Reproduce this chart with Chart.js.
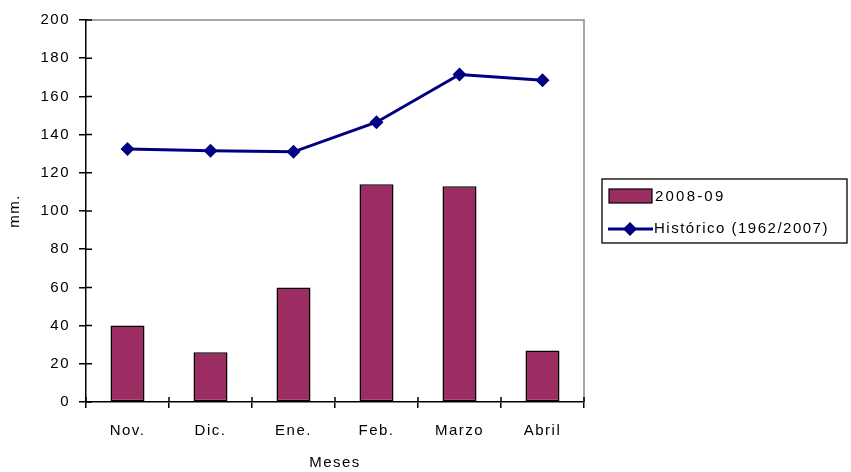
<!DOCTYPE html>
<html>
<head>
<meta charset="utf-8">
<script src="https://cdn.jsdelivr.net/npm/chart.js@4"></script>
<style>
  html, body { margin: 0; padding: 0; background: #fff; }
  #wrap { width: 851px; height: 472px; position: relative; }
</style>
</head>
<body>
<div id="wrap"><canvas id="c" width="851" height="472"></canvas></div>
<script>
const categories = ['Nov.', 'Dic.', 'Ene.', 'Feb.', 'Marzo', 'Abril'];
const rain2008 = [40, 26, 60, 114, 113, 27];
const historico = [132.5, 131.5, 131, 146.5, 171.5, 168.5];
const seriesNames = ['2008-09', 'Histórico (1962/2007)'];
const yTicks = [0, 20, 40, 60, 80, 100, 120, 140, 160, 180, 200];

const FONT = "'Liberation Sans', Arial, sans-serif";
const BAR_COLOR = '#9C2D62';
const LINE_COLOR = '#000080';

const spacingPlugin = {
  id: 'spacing',
  beforeLayout(chart) { chart.ctx.letterSpacing = '1.5px'; },
  beforeDraw(chart) { chart.ctx.letterSpacing = '1.5px'; }
};

const framePlugin = {
  id: 'frame',
  afterDatasetsDraw(chart) {
    const { ctx, chartArea: a } = chart;
    ctx.save();
    ctx.strokeStyle = '#8a8a8a';
    ctx.lineWidth = 1.5;
    ctx.beginPath();
    ctx.moveTo(a.left, a.top);
    ctx.lineTo(a.right, a.top);
    ctx.lineTo(a.right, a.bottom);
    ctx.stroke();
    ctx.strokeStyle = '#000';
    ctx.lineWidth = 1.5;
    const ys = chart.scales.y, xs = chart.scales.x;
    ctx.beginPath();
    yTicks.forEach(v => {
      const py = ys.getPixelForValue(v);
      ctx.moveTo(a.left, py); ctx.lineTo(a.left + 6, py);
    });
    for (let i = 0; i <= categories.length; i++) {
      const px = xs.getPixelForValue(i - 0.5);
      ctx.moveTo(px, a.bottom); ctx.lineTo(px, a.bottom - 5);
    }
    ctx.stroke();
    ctx.restore();
  }
};

const legendPlugin = {
  id: 'boxLegend',
  afterDraw(chart) {
    const ctx = chart.ctx;
    const x0 = 602, y0 = 179, w = 245, h = 64;
    ctx.save();
    ctx.fillStyle = '#fff';
    ctx.fillRect(x0, y0, w, h);
    ctx.strokeStyle = '#000';
    ctx.lineWidth = 1.3;
    ctx.strokeRect(x0, y0, w, h);
    const ds = chart.data.datasets;
    ctx.fillStyle = ds[0].backgroundColor;
    ctx.fillRect(609, 189, 43, 14);
    ctx.strokeStyle = '#000';
    ctx.lineWidth = 1.2;
    ctx.strokeRect(609, 189, 43, 14);
    ctx.strokeStyle = ds[1].borderColor;
    ctx.lineWidth = 3;
    ctx.beginPath();
    ctx.moveTo(608, 229);
    ctx.lineTo(653, 229);
    ctx.stroke();
    ctx.fillStyle = ds[1].borderColor;
    ctx.beginPath();
    ctx.moveTo(630, 222); ctx.lineTo(637, 229); ctx.lineTo(630, 236); ctx.lineTo(623, 229);
    ctx.closePath();
    ctx.fill();
    ctx.fillStyle = '#000';
    ctx.font = '15px ' + FONT;
    ctx.textBaseline = 'middle';
    ctx.textAlign = 'left';
    ctx.letterSpacing = '2.2px';
    ctx.fillText(ds[0].label, 655, 197);
    ctx.letterSpacing = '1.5px';
    ctx.fillText(ds[1].label, 654, 229);
    ctx.restore();
  }
};

new Chart(document.getElementById('c'), {
  data: {
    labels: categories,
    datasets: [
      {
        type: 'bar',
        label: seriesNames[0],
        data: rain2008,
        backgroundColor: BAR_COLOR,
        borderColor: '#000',
        borderWidth: 1.5,
        borderSkipped: false,
        categoryPercentage: 1,
        barPercentage: 0.41,
        order: 2
      },
      {
        type: 'line',
        label: seriesNames[1],
        data: historico,
        borderColor: LINE_COLOR,
        backgroundColor: LINE_COLOR,
        borderWidth: 3,
        pointStyle: 'rectRot',
        pointRadius: 7,
        pointHoverRadius: 7,
        pointBorderWidth: 0,
        tension: 0,
        order: 1
      }
    ]
  },
  options: {
    responsive: false,
    animation: false,
    devicePixelRatio: 1,
    layout: { padding: { left: 0, top: 20, right: 267, bottom: 0 } },
    plugins: {
      legend: { display: false },
      tooltip: { enabled: false }
    },
    scales: {
      x: {
        offset: true,
        grid: { display: true, offset: true, drawOnChartArea: false, drawTicks: true, tickLength: 6, color: '#000', lineWidth: 1.5 },
        border: { display: true, color: '#000', width: 1.5 },
        ticks: { color: '#000', font: { family: FONT, size: 15 }, padding: 14, maxRotation: 0 },
        title: { display: true, text: 'Meses', color: '#000', font: { family: FONT, size: 15 }, padding: { top: 6, bottom: 0 } },
        afterFit(s) { s.height = 70; }
      },
      y: {
        min: 0,
        max: 200,
        afterBuildTicks(s) { s.ticks = yTicks.map(v => ({ value: v })); },
        grid: { display: true, drawOnChartArea: false, drawTicks: true, tickLength: 7, color: '#000', lineWidth: 1.5 },
        border: { display: true, color: '#000', width: 1.5 },
        ticks: { color: '#000', font: { family: FONT, size: 15 }, padding: 9 },
        title: { display: true, text: 'mm.', color: '#000', font: { family: FONT, size: 15 }, padding: { top: 6, bottom: 0 } },
        afterFit(s) { s.width = 86; }
      }
    }
  },
  plugins: [spacingPlugin, framePlugin, legendPlugin]
});
</script>
</body>
</html>
